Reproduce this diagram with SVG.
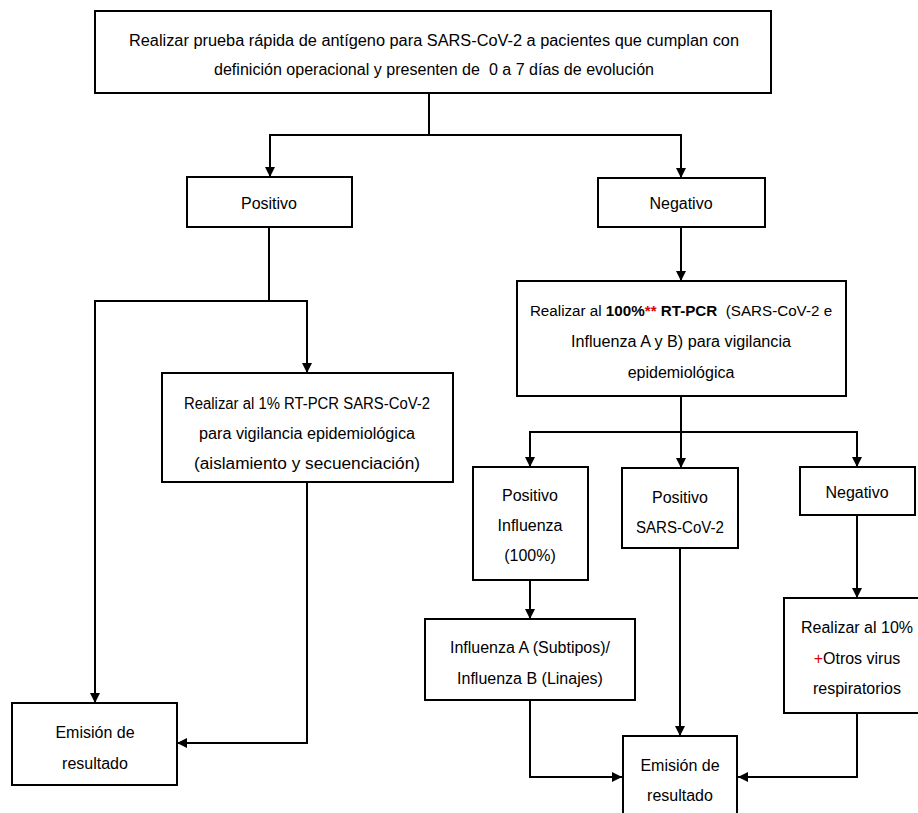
<svg xmlns="http://www.w3.org/2000/svg" width="918" height="813" viewBox="0 0 918 813">
<style>
.box{fill:#fff;stroke:#000;stroke-width:2}
.t{font-family:"Liberation Sans",Arial,sans-serif;font-size:16px;fill:#000;text-anchor:middle}
.b{font-weight:bold}
.r{fill:#e00000;font-weight:bold}
.c{fill:none;stroke:#000;stroke-width:2}
</style>
<defs>
<marker id="ah" markerUnits="userSpaceOnUse" markerWidth="10" markerHeight="10" refX="10" refY="5" orient="auto">
<path d="M0,0 L10,5 L0,10 z" fill="#000"/>
</marker>
</defs>
<rect width="918" height="813" fill="#fff"/>
<g id="connectors">
<path class="c" d="M429,93 V135 H270 V177" marker-end="url(#ah)"/>
<path class="c" d="M429,135 H681 V178" marker-end="url(#ah)"/>
<path class="c" d="M681,227 V281" marker-end="url(#ah)"/>
<path class="c" d="M269,227 V301 H95 V703" marker-end="url(#ah)"/>
<path class="c" d="M269,301 H307 V373" marker-end="url(#ah)"/>
<path class="c" d="M307,482 V743 H177" marker-end="url(#ah)"/>
<path class="c" d="M681,396 V432 H530 V467" marker-end="url(#ah)"/>
<path class="c" d="M681,432 V468" marker-end="url(#ah)"/>
<path class="c" d="M681,432 H857 V467" marker-end="url(#ah)"/>
<path class="c" d="M530,580 V619" marker-end="url(#ah)"/>
<path class="c" d="M680,548 V736" marker-end="url(#ah)"/>
<path class="c" d="M530,700 V777 H622" marker-end="url(#ah)"/>
<path class="c" d="M857,515 V598" marker-end="url(#ah)"/>
<path class="c" d="M857,713 V777 H738" marker-end="url(#ah)"/>
</g>
<g id="start">
<rect class="box" x="95" y="11" width="676" height="82"/>
<text class="t" x="434" y="46" textLength="610" lengthAdjust="spacingAndGlyphs">Realizar prueba rápida de antígeno para SARS-CoV-2 a pacientes que cumplan con</text>
<text class="t" x="434" y="75" xml:space="preserve" textLength="440" lengthAdjust="spacingAndGlyphs">definición operacional y presenten de  0 a 7 días de evolución</text>
</g>
<g id="positivo">
<rect class="box" x="187" y="177" width="165" height="50"/>
<text class="t" x="269" y="209">Positivo</text>
</g>
<g id="negativo">
<rect class="box" x="598" y="178" width="167" height="49"/>
<text class="t" x="681" y="209">Negativo</text>
</g>
<g id="rtpcr100">
<rect class="box" x="517" y="281" width="329" height="115"/>
<text class="t" x="681" y="316" xml:space="preserve" style="font-size:15.2px">Realizar al <tspan class="b">100%</tspan><tspan class="r">**</tspan><tspan class="b"> RT-PCR</tspan>  (SARS-CoV-2 e</text>
<text class="t" x="681" y="347" textLength="220" lengthAdjust="spacingAndGlyphs">Influenza A y B) para vigilancia</text>
<text class="t" x="681" y="378">epidemiológica</text>
</g>
<g id="rtpcr1">
<rect class="box" x="162" y="373" width="291" height="109"/>
<text class="t" x="307" y="409" textLength="246" lengthAdjust="spacingAndGlyphs">Realizar al 1% RT-PCR SARS-CoV-2</text>
<text class="t" x="307" y="439" textLength="216" lengthAdjust="spacingAndGlyphs">para vigilancia epidemiológica</text>
<text class="t" x="307" y="469" textLength="226" lengthAdjust="spacingAndGlyphs">(aislamiento y secuenciación)</text>
</g>
<g id="posinfluenza">
<rect class="box" x="473" y="467" width="115" height="113"/>
<text class="t" x="530" y="501">Positivo</text>
<text class="t" x="530" y="531">Influenza</text>
<text class="t" x="530" y="561">(100%)</text>
</g>
<g id="possars">
<rect class="box" x="622" y="468" width="116" height="80"/>
<text class="t" x="680" y="503">Positivo</text>
<text class="t" x="680" y="533" textLength="88" lengthAdjust="spacingAndGlyphs">SARS-CoV-2</text>
</g>
<g id="negativo2">
<rect class="box" x="800" y="467" width="115" height="48"/>
<text class="t" x="857" y="498">Negativo</text>
</g>
<g id="subtipos">
<rect class="box" x="425" y="619" width="210" height="81"/>
<text class="t" x="530" y="653">Influenza A (Subtipos)/</text>
<text class="t" x="530" y="684">Influenza B (Linajes)</text>
</g>
<g id="otros">
<rect class="box" x="784" y="598" width="145" height="115"/>
<text class="t" x="857" y="633">Realizar al 10%</text>
<text class="t" x="857" y="664"><tspan fill="#e00000">+</tspan>Otros virus</text>
<text class="t" x="857" y="694">respiratorios</text>
</g>
<g id="emision1">
<rect class="box" x="12" y="703" width="165" height="82"/>
<text class="t" x="95" y="738">Emisión de</text>
<text class="t" x="95" y="769">resultado</text>
</g>
<g id="emision2">
<rect class="box" x="623" y="736" width="114" height="90"/>
<text class="t" x="680" y="771">Emisión de</text>
<text class="t" x="680" y="801">resultado</text>
</g>
</svg>
